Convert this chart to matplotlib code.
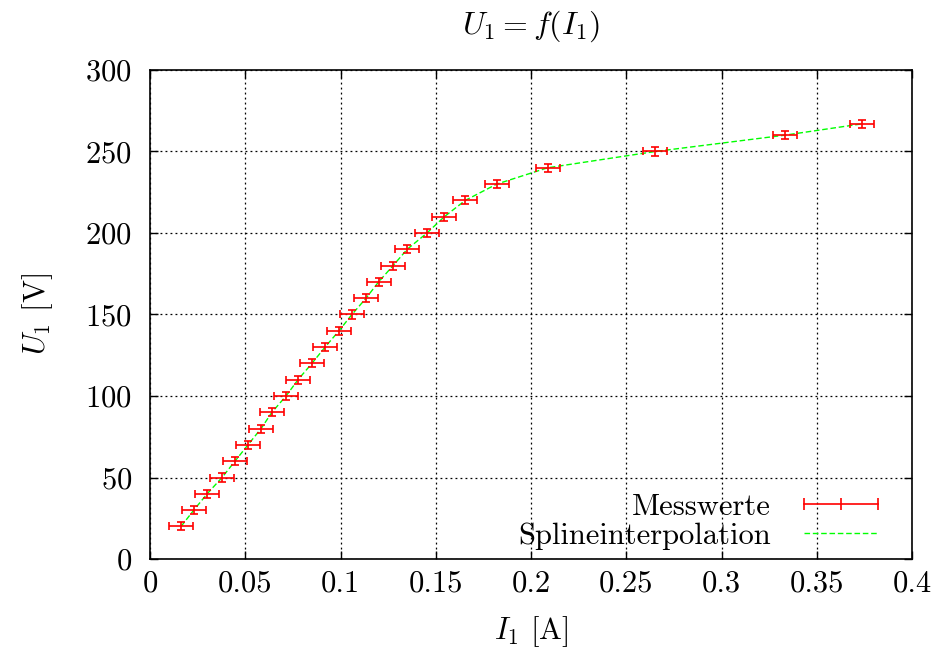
import matplotlib
matplotlib.use("Agg")
import matplotlib.pyplot as plt
from matplotlib.lines import Line2D
from matplotlib.ticker import FuncFormatter, MultipleLocator

# measured values
current = [0.0163, 0.0230, 0.0300, 0.0378, 0.0446, 0.0514, 0.0583, 0.0640,
           0.0714, 0.0777, 0.0850, 0.0919, 0.0992, 0.1060, 0.1134, 0.1200,
           0.1276, 0.1350, 0.1454, 0.1545, 0.1655, 0.1820, 0.2087, 0.2652,
           0.3332, 0.3740]
voltage = [20, 30, 40, 50, 60, 70, 80, 90, 100, 110, 120, 130, 140, 150,
           160, 170, 180, 190, 200, 210, 220, 230, 240, 250, 260, 267]
current_err = 0.0063
voltage_err = 2.5

x_ticks = [0, 0.05, 0.1, 0.15, 0.2, 0.25, 0.3, 0.35, 0.4]


def main():
    plt.rcParams["font.family"] = "serif"
    plt.rcParams["font.serif"] = ["cmr10"]
    plt.rcParams["mathtext.fontset"] = "cm"
    plt.rcParams["axes.unicode_minus"] = False
    plt.rcParams["axes.formatter.use_mathtext"] = True

    fig = plt.figure(figsize=(9.41, 6.51), dpi=100)
    ax = fig.add_axes([0.1594, 0.1413, 0.8098, 0.7512])

    ax.plot(current, voltage, color="#00ff00", linestyle=(0, (4, 2)),
            linewidth=1.0, zorder=2)
    ax.errorbar(current, voltage, xerr=current_err, yerr=voltage_err,
                fmt="none", ecolor="red", elinewidth=1.2, capsize=3.2,
                capthick=1.2, zorder=3)

    ax.set_xlim(0, 0.4)
    ax.set_ylim(0, 300)
    ax.set_xticks(x_ticks)
    ax.xaxis.set_major_formatter(FuncFormatter(lambda v, p: "%g" % v))
    ax.yaxis.set_major_locator(MultipleLocator(50))
    ax.tick_params(direction="in", top=True, right=True, length=6,
                   width=1, labelsize=22)
    ax.tick_params(axis="x", pad=8)
    ax.tick_params(axis="y", pad=13)
    ax.grid(True, color="black", linestyle=(0, (1.5, 2.5)), linewidth=0.9)
    for s in ax.spines.values():
        s.set_linewidth(1.2)

    ax.set_title(r"$U_1 = f(I_1)$", fontsize=23, pad=26)
    ax.set_xlabel(r"$I_1$ [A]", fontsize=22, labelpad=12)
    ax.set_ylabel(r"$U_1$ [V]", fontsize=22, labelpad=22)

    handles = [
        Line2D([], [], color="red", linewidth=1.2, marker="|",
               markersize=8, markeredgewidth=1.2),
        Line2D([], [], color="#00ff00", linestyle=(0, (4, 2)), linewidth=1.0),
    ]
    ax.legend(handles, ["Messwerte", "Splineinterpolation"], loc="lower right",
              bbox_to_anchor=(0.995, -0.0245),
              frameon=False, markerfirst=False, numpoints=3, fontsize=22,
              handlelength=3.0, handletextpad=0.8, labelspacing=0.05,
              borderaxespad=0.3)

    fig.savefig("out.png", dpi=100)


if __name__ == "__main__":
    main()
